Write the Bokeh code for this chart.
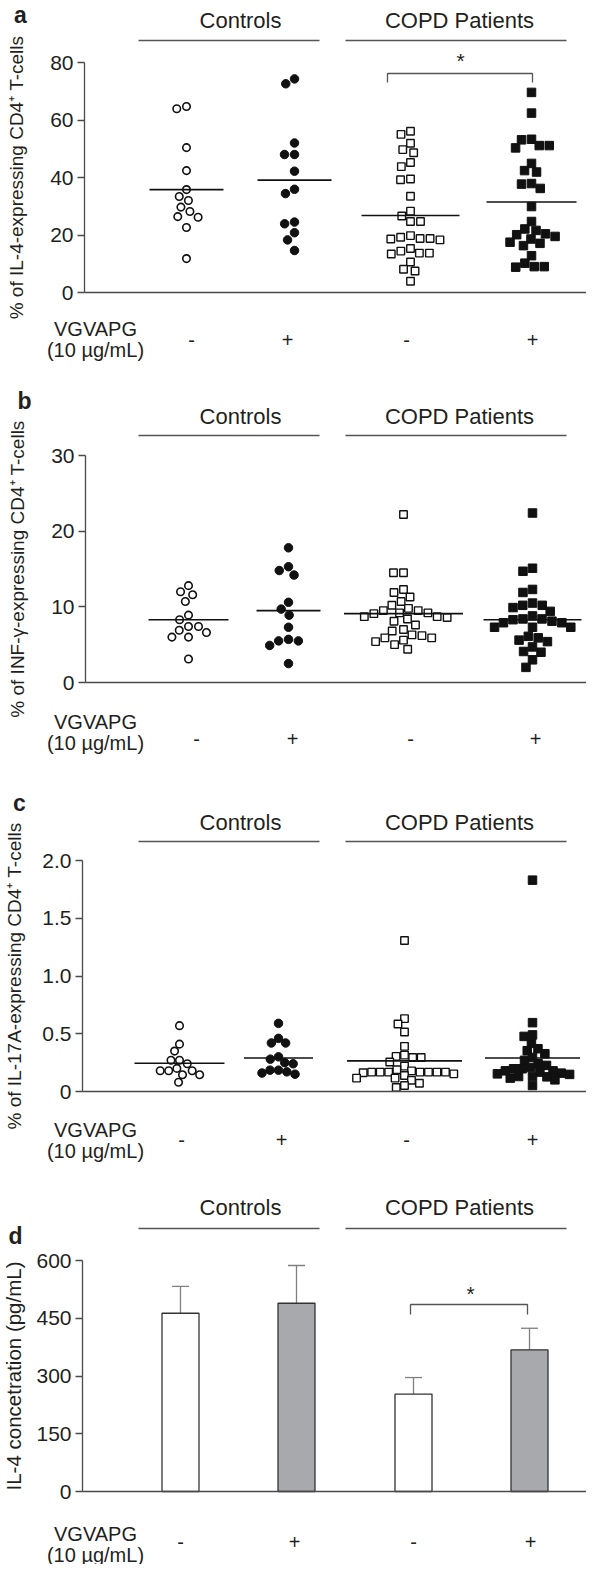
from bokeh.plotting import figure
from bokeh.models import Range1d, LinearAxis, FixedTicker, ColumnDataSource, Whisker, TeeHead
from bokeh.layouts import column
from bokeh.core.properties import value
from bokeh.embed import file_html
from bokeh.resources import INLINE

# ---------------- data ----------------
group_names = ["Controls", "COPD Patients"]
treatment = ["-", "+", "-", "+"]
stim_label = ["VGVAPG", "(10 µg/mL)"]

# a: % of IL-4-expressing CD4+ T-cells
il4_ctrl_minus = [64.7, 63.9, 50.4, 42.4, 35.8, 33.4, 32.0, 29.7, 28.2, 26.4, 26.2, 22.6, 11.8]
il4_ctrl_plus = [74.3, 72.6, 52.0, 48.0, 48.0, 42.2, 35.9, 34.4, 24.5, 23.9, 20.8, 18.3, 14.6]
il4_copd_minus = [56.1, 55.0, 51.9, 49.7, 48.6, 45.2, 43.8, 39.5, 39.2, 33.5, 28.3, 26.6, 24.7,
                  24.7, 19.8, 19.2, 18.8, 18.8, 18.6, 18.3, 15.3, 14.4, 13.7, 13.7, 13.4, 10.6,
                  8.1, 7.5, 3.9]
il4_copd_plus = [69.6, 62.4, 53.3, 53.1, 51.1, 51.1, 50.3, 44.9, 42.4, 41.9, 37.9, 37.7, 36.2,
                 29.9, 24.7, 22.1, 21.6, 20.4, 20.1, 19.5, 18.6, 17.5, 17.1, 16.3, 12.8, 10.2,
                 9.0, 9.0, 8.8]
il4_means = [35.8, 39.1, 26.8, 31.5]

# b: % of INF-gamma-expressing CD4+ T-cells
ifn_ctrl_minus = [12.8, 12.0, 11.6, 10.7, 8.9, 8.3, 7.4, 7.4, 6.9, 6.6, 6.0, 6.0, 3.1]
ifn_ctrl_plus = [17.8, 15.3, 14.8, 14.2, 10.6, 9.7, 8.9, 7.3, 5.7, 5.5, 5.5, 4.9, 2.5]
ifn_copd_minus = [22.2, 14.5, 14.5, 12.3, 11.9, 11.3, 10.7, 10.2, 9.8, 9.5, 9.5, 9.2, 9.2, 9.1,
                  8.7, 8.7, 8.6, 8.4, 8.1, 7.6, 7.0, 6.8, 6.3, 6.2, 5.9, 5.9, 5.6, 5.4, 5.0, 4.4]
ifn_copd_plus = [22.4, 15.1, 14.7, 12.3, 11.9, 10.5, 10.2, 10.2, 9.9, 9.4, 8.8, 8.4, 8.4, 8.3,
                 8.1, 7.9, 7.9, 7.3, 7.3, 7.3, 6.1, 5.9, 5.6, 5.4, 4.7, 4.1, 4.0, 3.0, 2.0]
ifn_means = [8.3, 9.5, 9.1, 8.3]

# c: % of IL-17A-expressing CD4+ T-cells
il17_ctrl_minus = [0.57, 0.41, 0.35, 0.27, 0.27, 0.24, 0.20, 0.18, 0.18, 0.18, 0.145, 0.145, 0.08]
il17_ctrl_plus = [0.59, 0.46, 0.42, 0.42, 0.30, 0.28, 0.25, 0.24, 0.185, 0.185, 0.17, 0.16, 0.15]
il17_copd_minus = [1.308, 0.631, 0.584, 0.515, 0.391, 0.315, 0.304, 0.295, 0.295, 0.255, 0.220,
                   0.188, 0.179, 0.168, 0.168, 0.168, 0.168, 0.168, 0.168, 0.168, 0.162, 0.153,
                   0.139, 0.116, 0.116, 0.098, 0.072, 0.052, 0.035]
il17_copd_plus = [1.83, 0.596, 0.49, 0.477, 0.417, 0.37, 0.353, 0.327, 0.295, 0.27, 0.24, 0.226,
                  0.208, 0.197, 0.197, 0.179, 0.179, 0.168, 0.159, 0.153, 0.148, 0.130, 0.130,
                  0.127, 0.116, 0.101, 0.052]
il17_means = [0.245, 0.29, 0.265, 0.29]

# d: IL-4 concentration (pg/mL), mean + SEM
conc_mean = [463, 489, 253, 368]
conc_sem = [70, 98, 43, 56]

# ---------------- style / layout ----------------
FONT = "Liberation Sans"
INK = "#231f20"
GREY = "#4a4a4a"
W = 586
X_LO, X_HI = 0, 586          # x data units == pixels
GROUP_LINES = [(138, 319), (345, 566)]
GROUP_TEXT_X = [240, 459]
STIM_X = 95

MARKERS = [
    dict(marker="circle", size=7.5, fill_color="white", line_color="#111111", line_width=1.6),
    dict(marker="circle", size=8.5, fill_color="#111111", line_color="#111111", line_width=1),
    dict(marker="square", size=7.5, fill_color="white", line_color="#111111", line_width=1.4),
    dict(marker="square", size=8.5, fill_color="#111111", line_color="#111111", line_width=1),
]


def beeswarm(vals, px_per_unit, d=10.0):
    """horizontal offsets (px) so that no two markers are closer than d."""
    order = sorted(range(len(vals)), key=lambda i: -vals[i])
    placed = []
    offs = [0.0] * len(vals)
    for i in order:
        y = vals[i] * px_per_unit
        near = [(px, py) for px, py in placed if abs(py - y) < d]
        cands = [0.0]
        for px, py in near:
            dx = (d * d - (py - y) ** 2) ** 0.5
            cands += [px + dx, px - dx]
        cands.sort(key=lambda c: (round(abs(c), 3), c))
        chosen = cands[-1]
        for c in cands:
            if all((c - px) ** 2 + (y - py) ** 2 >= d * d - 1e-6 for px, py in near):
                chosen = c
                break
        placed.append((chosen, y))
        offs[i] = chosen
    return offs


def txt(p, x, y, s, size="20px", style="normal", align="center", color=INK):
    p.text(x=[x], y=[y], text=[s], text_font=value(FONT), text_font_size=size,
           text_font_style=style, text_align=align, text_baseline="middle", text_color=color)


def make_panel(cfg):
    top, height, shift = cfg["top"], cfg["height"], cfg["shift"]
    zero_ref, max_ref, ymax = cfg["zero_ref"], cfg["max_ref"], cfg["ymax"]
    k = (zero_ref - max_ref) / ymax
    z = zero_ref + shift

    def Y(ry):
        return (zero_ref - ry) / k

    p = figure(width=W, height=height, x_range=Range1d(X_LO, X_HI),
               y_range=Range1d((z - (top + height)) / k, (z - top) / k),
               x_axis_type=None, y_axis_type=None, toolbar_location=None,
               output_backend="svg", min_border=0, outline_line_color=None)
    p.background_fill_color = "white"
    p.border_fill_color = "white"

    ax_x = cfg["axis_x"]
    yax = LinearAxis(fixed_location=ax_x, bounds=(0, ymax),
                     ticker=FixedTicker(ticks=cfg["ticks"]),
                     axis_label=cfg["title"], axis_label_standoff=cfg["standoff"],
                     axis_label_text_font=FONT, axis_label_text_font_size=cfg["title_size"],
                     axis_label_text_font_style="normal", axis_label_text_color=INK,
                     major_label_text_font=FONT, major_label_text_font_size="21px",
                     major_label_text_color=INK, major_label_standoff=4,
                     major_tick_out=7, major_tick_in=0, minor_tick_out=0, minor_tick_in=0,
                     axis_line_color=GREY, major_tick_line_color=GREY,
                     axis_line_width=1.3, major_tick_line_width=1.3)
    if cfg.get("overrides"):
        yax.major_label_overrides = cfg["overrides"]
    p.add_layout(yax, "left")

    xax = LinearAxis(fixed_location=0, bounds=(ax_x, X_HI), ticker=FixedTicker(ticks=[]),
                     axis_line_color=GREY, axis_line_width=1.3,
                     major_tick_out=0, major_tick_in=0, minor_tick_out=0, minor_tick_in=0,
                     major_label_text_font_size="0px")
    p.add_layout(xax, "below")

    # panel letter
    txt(p, cfg["letter_x"], Y(cfg["letter_y"]), cfg["letter"], size="23px", style="bold")
    # group headers
    for (x0, x1), tx, name in zip(GROUP_LINES, GROUP_TEXT_X, group_names):
        txt(p, tx, Y(cfg["group_y"]), name, size="22px")
        p.segment(x0=[x0], y0=[Y(cfg["gline_y"])], x1=[x1], y1=[Y(cfg["gline_y"])],
                  line_color="#555555", line_width=1.3)
    # treatment row
    txt(p, STIM_X, Y(cfg["stim_y"]), stim_label[0])
    txt(p, STIM_X, Y(cfg["stim_y"] + 21), stim_label[1])
    for sx, t in zip(cfg["sign_x"], treatment):
        txt(p, sx, Y(cfg["sign_y"]), t)

    # significance bracket
    if cfg.get("bracket"):
        bx0, bx1, by, barm, stx, sty = cfg["bracket"]
        p.line(x=[bx0, bx0, bx1, bx1], y=[Y(barm), Y(by), Y(by), Y(barm)],
               line_color="#555555", line_width=1.3)
        txt(p, stx, Y(sty), "*", size="21px")
    return p, k


def scatter_panel(cfg, groups, means, widths):
    p, k = make_panel(cfg)
    for gi, vals in enumerate(groups):
        cx = cfg["cat_x"][gi]
        offs = beeswarm(vals, k, d=cfg.get("sep", 10.0))
        src = ColumnDataSource(dict(x=[cx + o for o in offs], y=vals))
        p.scatter(x="x", y="y", source=src, **MARKERS[gi])
        w = widths[gi]
        p.segment(x0=[cx - w / 2], y0=[means[gi]], x1=[cx + w / 2], y1=[means[gi]],
                  line_color="#111111", line_width=1.6)
    return p


cfg_a = dict(top=0, height=384, shift=0, zero_ref=292, max_ref=62, ymax=80,
             ticks=[0, 20, 40, 60, 80], title="% of IL-4-expressing CD4⁺ T-cells",
             title_size="19px", standoff=20, axis_x=84, letter="a", letter_x=20, letter_y=14,
             group_y=20, gline_y=40, stim_y=328, sign_y=339,
             cat_x=[186, 294, 410, 531], sign_x=[191, 287, 406, 532],
             bracket=(387, 532, 73, 82, 460, 60))
cfg_b = dict(top=384, height=392, shift=-4, zero_ref=686, max_ref=459, ymax=30,
             ticks=[0, 10, 20, 30], title="% of INF-γ-expressing CD4⁺ T-cells",
             title_size="19px", standoff=20, axis_x=85, letter="b", letter_x=24, letter_y=404,
             group_y=420, gline_y=439, stim_y=725, sign_y=742,
             cat_x=[188, 288, 403, 532], sign_x=[196, 292, 410, 535])
cfg_c = dict(top=776, height=404, shift=-8, zero_ref=1099, max_ref=868, ymax=2.0,
             ticks=[0, 0.5, 1.0, 1.5, 2.0],
             overrides={0: "0", 0.5: "0.5", 1: "1.0", 1.5: "1.5", 2: "2.0"},
             title="% of IL-17A-expressing CD4⁺ T-cells",
             title_size="19px", standoff=14, axis_x=82, letter="c", letter_x=19, letter_y=810,
             group_y=830, gline_y=849, stim_y=1137, sign_y=1147,
             cat_x=[179, 278, 404, 532], sign_x=[181, 281, 406, 532], sep=8.5)
cfg_d = dict(top=1180, height=384, shift=-13, zero_ref=1504, max_ref=1273, ymax=600,
             ticks=[0, 150, 300, 450, 600], title="IL-4 concetration (pg/mL)",
             title_size="20.5px", standoff=8, axis_x=82, letter="d", letter_x=15, letter_y=1248,
             group_y=1220, gline_y=1241, stim_y=1546, sign_y=1554,
             cat_x=[180, 296, 413, 529], sign_x=[180, 294, 413, 530],
             bracket=(410, 527, 1317, 1327, 470, 1306))

pa = scatter_panel(cfg_a, [il4_ctrl_minus, il4_ctrl_plus, il4_copd_minus, il4_copd_plus],
                   il4_means, [74, 74, 98, 90])
pb = scatter_panel(cfg_b, [ifn_ctrl_minus, ifn_ctrl_plus, ifn_copd_minus, ifn_copd_plus],
                   ifn_means, [80, 64, 119, 98])
pc = scatter_panel(cfg_c, [il17_ctrl_minus, il17_ctrl_plus, il17_copd_minus, il17_copd_plus],
                   il17_means, [90, 69, 115, 95])

# ----- bar panel -----
pd_, kd = make_panel(cfg_d)
bar_src = ColumnDataSource(dict(
    x=cfg_d["cat_x"], top=conc_mean,
    upper=[m + s for m, s in zip(conc_mean, conc_sem)],
    color=["white", "#a8a9ad", "white", "#a8a9ad"]))
pd_.add_layout(Whisker(source=bar_src, base="x", lower="top", upper="upper",
                       line_color="#808080", line_width=1.3, lower_head=None,
                       upper_head=TeeHead(size=17, line_color="#808080", line_width=1.3)))
pd_.vbar(x="x", top="top", bottom=0, width=37, source=bar_src, fill_color="color",
         line_color="#333333", line_width=1.3)

layout = column(pa, pb, pc, pd_, spacing=0)
open("out.html", "w").write(file_html(layout, INLINE))
